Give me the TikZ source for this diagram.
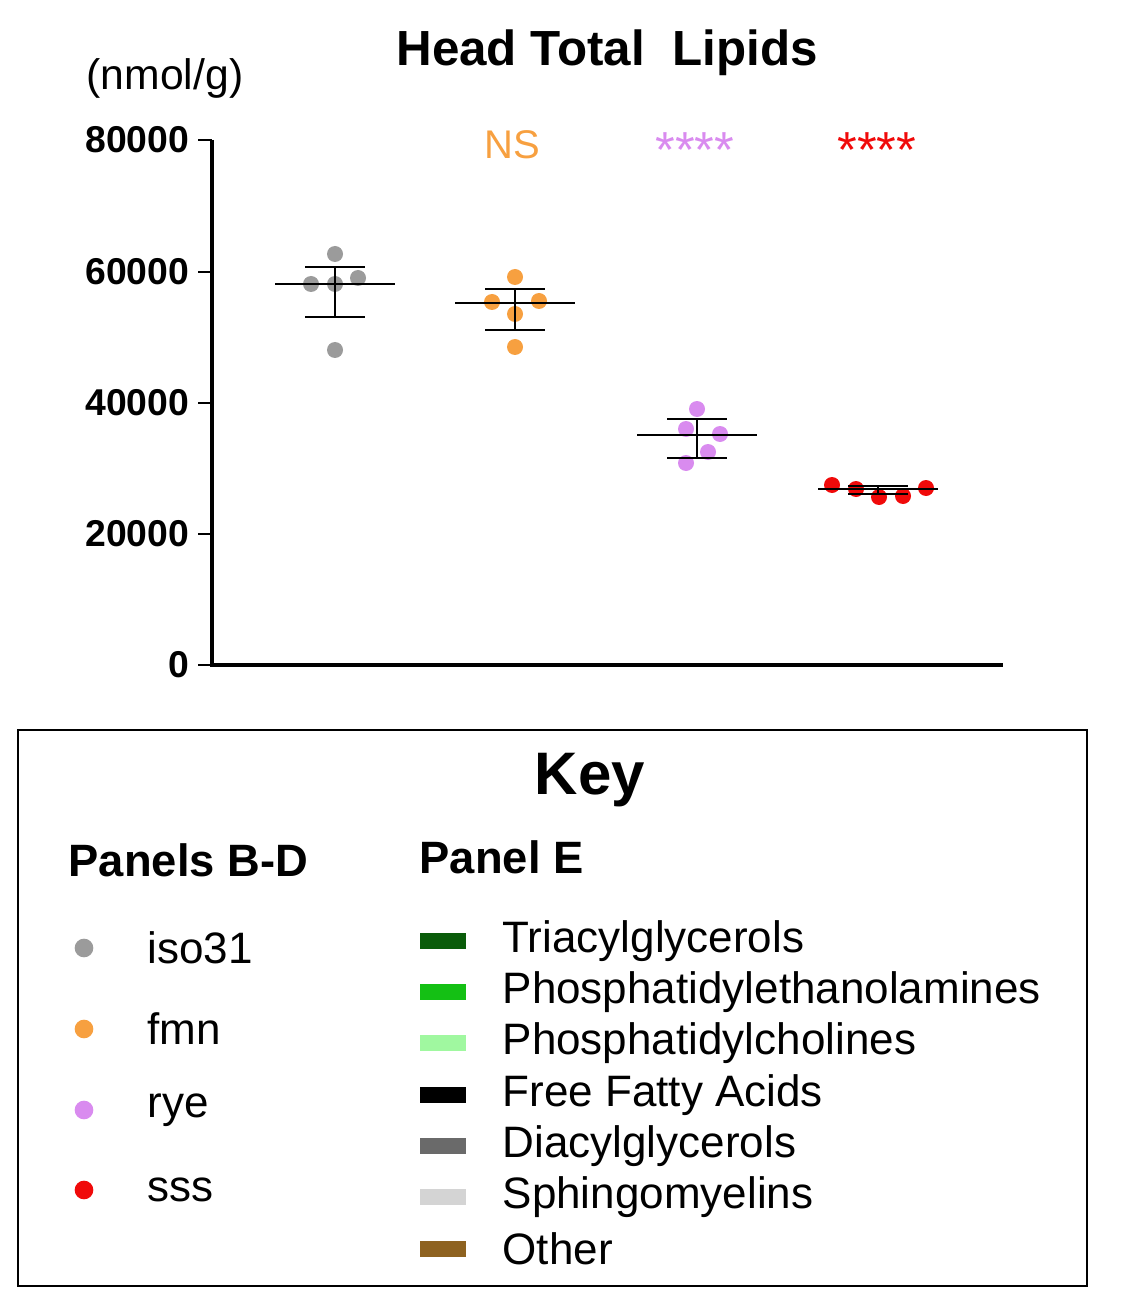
\documentclass[tikz,border=0pt]{standalone}
\usepackage{fontspec}
\setmainfont{Liberation Sans}
\begin{document}
\begin{tikzpicture}[x=0.75pt,y=-0.75pt]
\useasboundingbox (0,0) rectangle (1136,1301);
\definecolor{cgray}{HTML}{9B9B9B}
\definecolor{corange}{HTML}{F7A040}
\definecolor{cviolet}{HTML}{D98BEF}
\definecolor{cred}{HTML}{F00A0A}
\definecolor{cdg}{HTML}{0A5C0A}
\definecolor{cmg}{HTML}{14C014}
\definecolor{clg}{HTML}{A0F8A0}
\definecolor{cdgray}{HTML}{6A6A6A}
\definecolor{clgray}{HTML}{D4D4D4}
\definecolor{cbrown}{HTML}{8E6220}
\tikzset{axis/.style={line width=3pt},
 tick/.style={line width=2.2pt},
 tlab/.style={anchor=east,font=\fontsize{28}{30}\selectfont\bfseries},
 eb/.style={line width=1.4pt},
 leglab/.style={anchor=west,font=\fontsize{33}{36}\selectfont},
 sw/.style={minimum width=35pt,minimum height=12pt,inner sep=0pt}}
% axes
\coordinate (o) at (212,665);
\coordinate (top) at (212,140);
\coordinate (xe) at (1003,665);
\draw[axis] (top) -- (o) -- (xe);
\foreach \v/\y in {0/665,20000/534,40000/403,60000/272,80000/140}{
  \draw[tick] (198,\y) -- (212,\y);
  \node[tlab] (t\v) at (194,\y) {\v};}
\node[font=\fontsize{32}{34}\selectfont] (unit) at (165,78) {(nmol/g)};
\node[font=\fontsize{37}{40}\selectfont\bfseries] (title) at (607,53) {Head Total\ \ Lipids};
\node[font=\fontsize{30}{32}\selectfont,text=corange] (ns) at (512,145) {NS};
\node[font=\fontsize{38}{40}\selectfont,text=cviolet] (s1) at (695,150) {****};
\node[font=\fontsize{38}{40}\selectfont,text=cred] (s2) at (877,150) {****};
% groups: color, cx, mean, hi, lo, points
\foreach \c/\cx/\m/\h/\l/\pts in {
 cgray/335/284/267/317/{335/254,311/284,335/284,358/278,335/350},
 corange/515/303/289/330/{515/277,492/302,515/314,539/301,515/347},
 cviolet/697/435/419/458/{697/409,686/429,720/434,708/452,686/463},
 cred/878/489/486/494/{832/485,856/489,879/497,903/496,926/488}}{
  \foreach \px/\py in \pts {\fill[\c] (\px,\py) circle (6pt);}
  \draw[eb] (\cx-60,\m) -- (\cx+60,\m);
  \draw[eb] (\cx,\h) -- (\cx,\l);
  \draw[eb] (\cx-30,\h) -- (\cx+30,\h);
  \draw[eb] (\cx-30,\l) -- (\cx+30,\l);
}
% key
\draw[line width=1.5pt] (18,730) rectangle (1087,1286);
\node[font=\fontsize{45}{48}\selectfont\bfseries] (key) at (590,780) {Key};
\node[anchor=west,font=\fontsize{34}{36}\selectfont\bfseries] (pbd) at (64,860) {Panels B-D};
\node[anchor=west,font=\fontsize{34}{36}\selectfont\bfseries] (pe) at (415,857) {Panel E};
\foreach \c/\y/\t in {cgray/948/iso31,corange/1029/fmn,cviolet/1110/rye,cred/1190/sss}{
  \fill[\c] (84,\y) circle (7pt);
  \node[leglab] (l\t) at (143,\y) {\t};}
\foreach \c/\y/\t/\n in {cdg/941/Triacylglycerols/a,cmg/992/Phosphatidylethanolamines/b,clg/1043/Phosphatidylcholines/c,black/1095/Free Fatty Acids/d,cdgray/1146/Diacylglycerols/e,clgray/1197/Sphingomyelins/f,cbrown/1249/Other/g}{
  \node[sw,fill=\c] (sw\n) at (443,\y) {};
  \node[leglab] (e\n) at (498,\y) {\t};}
\end{tikzpicture}
\end{document}
